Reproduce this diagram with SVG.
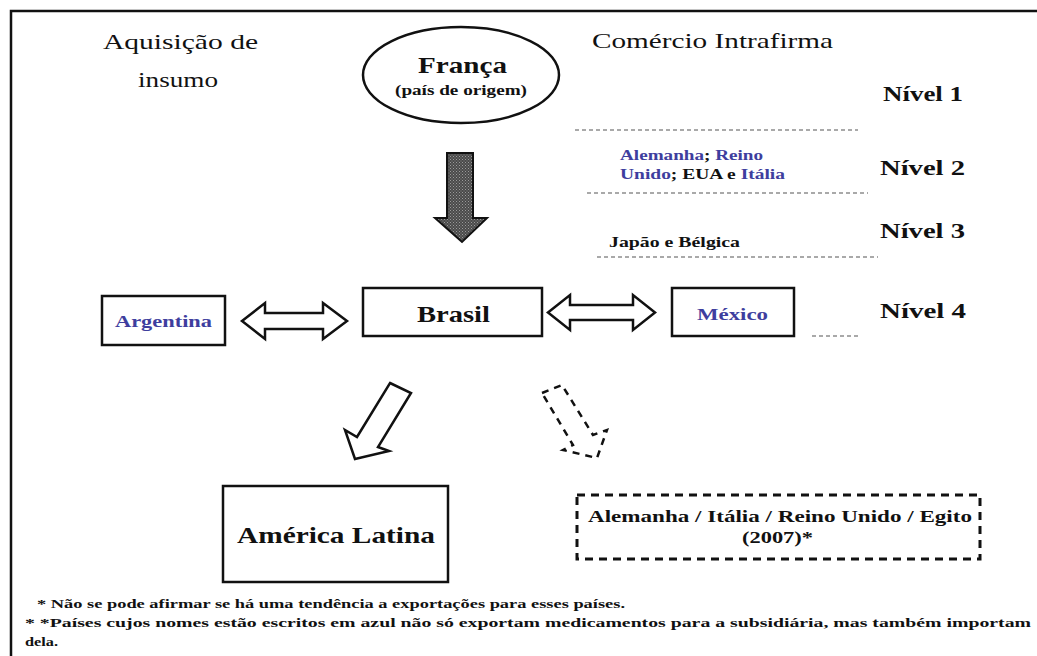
<svg xmlns="http://www.w3.org/2000/svg" width="1037" height="656" viewBox="0 0 1037 656">
<style>
.reg{font-size:22px;fill:#111}
.b{font-weight:bold;fill:#111}
.blue{fill:#3e3e9e}
.box{fill:#fff;stroke:#111;stroke-width:2.5}
.arr{fill:#fff;stroke:#111;stroke-width:2.5;stroke-linejoin:miter}
.lvl{stroke:#555;stroke-width:1.2;stroke-dasharray:4 3;fill:none}
</style>
<defs>
<pattern id="chk" width="3" height="3" patternUnits="userSpaceOnUse">
<rect width="3" height="3" fill="#4a4a4a"/>
<rect width="1" height="1" fill="#9a9a9a"/>
<rect x="1.5" y="1.5" width="1" height="1" fill="#8a8a8a"/>
</pattern>
</defs>
<rect x="0" y="0" width="1037" height="656" fill="#fff"/>
<rect x="11" y="11" width="1040" height="660" fill="none" stroke="#111" stroke-width="2.5"/>
<g font-family="Liberation Serif, Times New Roman, serif">
<g id="labels">
<text class="reg" x="103" y="49" textLength="155" lengthAdjust="spacingAndGlyphs">Aquisição de</text>
<text class="reg" x="138" y="87" textLength="80" lengthAdjust="spacingAndGlyphs">insumo</text>
<text class="reg" x="592" y="48" textLength="241" lengthAdjust="spacingAndGlyphs">Comércio Intrafirma</text>
</g>

<g id="franca">
<ellipse cx="461" cy="75" rx="98" ry="48" fill="#fff" stroke="#111" stroke-width="2.5"/>
<text class="b" x="418" y="73" font-size="24" textLength="89" lengthAdjust="spacingAndGlyphs">França</text>
<text class="b" x="395" y="95" font-size="15" textLength="132" lengthAdjust="spacingAndGlyphs">(país de origem)</text>
</g>

<g id="niveis">
<text class="b" x="883" y="101" font-size="21" textLength="80" lengthAdjust="spacingAndGlyphs">Nível 1</text>
<text class="b" x="880" y="175" font-size="21" textLength="85" lengthAdjust="spacingAndGlyphs">Nível 2</text>
<text class="b" x="880" y="238" font-size="21" textLength="85" lengthAdjust="spacingAndGlyphs">Nível 3</text>
<text class="b" x="880" y="318" font-size="21" textLength="86" lengthAdjust="spacingAndGlyphs">Nível 4</text>
<line class="lvl" x1="575" y1="130" x2="858" y2="130"/>
<line class="lvl" x1="587" y1="193" x2="868" y2="193"/>
<line class="lvl" x1="597" y1="257" x2="878" y2="257"/>
<line class="lvl" x1="812" y1="336" x2="860" y2="336"/>
<text class="b" x="620" y="160" font-size="14" textLength="143" lengthAdjust="spacingAndGlyphs"><tspan class="blue">Alemanha</tspan>; <tspan class="blue">Reino</tspan></text>
<text class="b" x="620" y="179" font-size="14" textLength="165" lengthAdjust="spacingAndGlyphs"><tspan class="blue">Unido</tspan>; EUA e <tspan class="blue">Itália</tspan></text>
<text class="b" x="609" y="247" font-size="14" textLength="131" lengthAdjust="spacingAndGlyphs">Japão e Bélgica</text>
</g>

<g id="argentina">
<rect class="box" x="102" y="296" width="123" height="49"/>
<text class="b blue" x="115" y="327" font-size="17" textLength="97" lengthAdjust="spacingAndGlyphs">Argentina</text>
</g>

<g id="brasil">
<rect class="box" x="363" y="288" width="179" height="48"/>
<text class="b" x="417" y="322" font-size="24" textLength="73" lengthAdjust="spacingAndGlyphs">Brasil</text>
</g>

<g id="mexico">
<rect class="box" x="672" y="288" width="122" height="48"/>
<text class="b blue" x="697" y="320" font-size="17" textLength="71" lengthAdjust="spacingAndGlyphs">México</text>
</g>

<g id="america-latina">
<rect class="box" x="223" y="486" width="225" height="96"/>
<text class="b" x="237" y="543" font-size="24" textLength="198" lengthAdjust="spacingAndGlyphs">América Latina</text>
</g>

<g id="europa-egito">
<rect x="577" y="495" width="403" height="64" fill="#fff" stroke="#111" stroke-width="3" stroke-dasharray="8 6"/>
<text class="b" x="588" y="522" font-size="17" textLength="384" lengthAdjust="spacingAndGlyphs">Alemanha / Itália / Reino Unido / Egito</text>
<text class="b" x="742" y="543" font-size="17" textLength="71" lengthAdjust="spacingAndGlyphs">(2007)*</text>
</g>

<g id="connectors">
<polygon points="447,153 473,153 473,218 487,218 462,242 435,218 447,218" fill="url(#chk)" stroke="#111" stroke-width="2"/>
<polygon class="arr" points="242,321 265,303 265,313 323,313 323,303 347,321 323,339 323,329 265,329 265,339"/>
<polygon class="arr" points="548,312.5 570,295 570,305 633,305 633,295 655,312.5 633,330 633,320 570,320 570,330"/>
<polygon class="arr" points="390,383 411,393 378,447 389,451 355,459 345,430 357,437"/>
<polygon points="542,393 562,385 593,435 607,430 597,458 563,450 573,445" fill="none" stroke="#111" stroke-width="2.5" stroke-dasharray="7 6"/>
</g>

<g id="footnotes">
<text class="b" x="37" y="608" font-size="13" textLength="588" lengthAdjust="spacingAndGlyphs">* Não se pode afirmar se há uma tendência a exportações para esses países.</text>
<text class="b" x="25" y="627" font-size="13" textLength="1006" lengthAdjust="spacingAndGlyphs">* *Países cujos nomes estão escritos em azul não só exportam medicamentos para a subsidiária, mas também importam</text>
<text class="b" x="25" y="646" font-size="13" textLength="33" lengthAdjust="spacingAndGlyphs">dela.</text>
</g>
</g>
</svg>
